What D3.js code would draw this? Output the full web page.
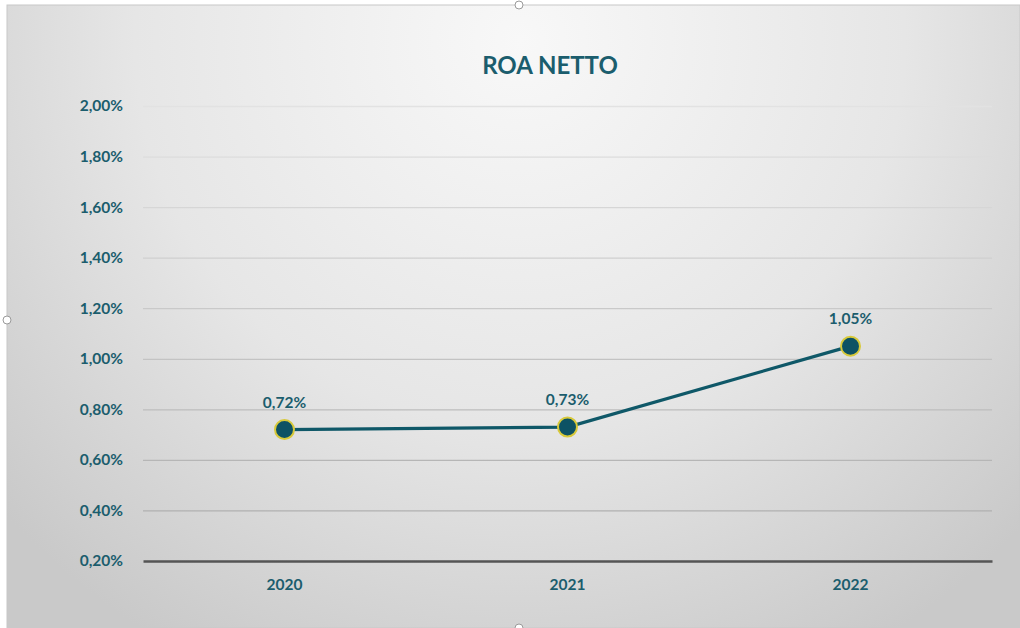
<!DOCTYPE html>
<html>
<head>
<meta charset="utf-8">
<script src="https://cdn.jsdelivr.net/npm/d3@7"></script>
<style>
  body { margin: 0; background: #ffffff; }
  svg { display: block; }
</style>
</head>
<body>
<script>
// chart data
var years = ["2020", "2021", "2022"];
var roaValues = [0.72, 0.73, 1.05];
var yTicks = [0.2, 0.4, 0.6, 0.8, 1.0, 1.2, 1.4, 1.6, 1.8, 2.0];
var chartTitle = "ROA NETTO";

var W = 1020, H = 628;
var margin = { top: 106, right: 28, bottom: 67, left: 143 };

var svg = d3.select("body").append("svg")
    .attr("width", W)
    .attr("height", H);

// background gradient of the chart panel
var defs = svg.append("defs");
var grad = defs.append("radialGradient")
    .attr("id", "bg")
    .attr("gradientUnits", "userSpaceOnUse")
    .attr("cx", 520).attr("cy", 40).attr("r", 700);
grad.append("stop").attr("offset", "0%").attr("stop-color", "#f8f8f8");
grad.append("stop").attr("offset", "55%").attr("stop-color", "#e6e6e6");
grad.append("stop").attr("offset", "100%").attr("stop-color", "#c9c9c9");

svg.append("rect")
    .attr("x", 7).attr("y", 5)
    .attr("width", W - 7).attr("height", H - 5)
    .attr("fill", "url(#bg)")
    .attr("stroke", "#c8c8c8")
    .attr("stroke-width", 1);

// selection handles
[[519, 5], [7, 320], [519, 628]].forEach(function (p) {
    svg.append("circle")
        .attr("cx", p[0]).attr("cy", p[1]).attr("r", 4)
        .attr("fill", "#ffffff")
        .attr("stroke", "#9a9a9a")
        .attr("stroke-width", 1);
});

var x = d3.scaleBand()
    .domain(years)
    .range([margin.left, W - margin.right]);

var y = d3.scaleLinear()
    .domain([0.2, 2.0])
    .range([H - margin.bottom, margin.top]);

var teal = "#1b5d6d";
var font = "Lato, sans-serif";
var fmt = function (v) { return v.toFixed(2).replace(".", ",") + "%"; };

// gridlines, lighter towards the top
var gridColor = d3.scaleLinear().domain([0.4, 2.0]).range(["#b0b0b0", "#e2e2e2"]);
var grid = svg.append("g")
    .attr("transform", "translate(" + margin.left + ",0)")
    .call(d3.axisLeft(y).tickValues(yTicks.slice(1)).tickSize(-(W - margin.left - margin.right)).tickFormat(""));
grid.select(".domain").remove();
grid.selectAll("line")
    .attr("stroke", function (d) { return gridColor(d); })
    .attr("stroke-width", 1.3);

// y labels
var yAxis = svg.append("g")
    .attr("transform", "translate(" + (margin.left - 17) + ",0)")
    .call(d3.axisLeft(y).tickValues(yTicks).tickSize(0).tickFormat(fmt));
yAxis.select(".domain").remove();
yAxis.selectAll("text")
    .attr("fill", teal)
    .attr("font-family", font)
    .attr("font-weight", "bold")
    .attr("font-size", 15.5);

// x axis baseline and labels
var xAxis = svg.append("g")
    .attr("transform", "translate(0," + y(0.2) + ")")
    .call(d3.axisBottom(x).tickSize(0).tickPadding(18));
xAxis.select(".domain")
    .attr("stroke", "#555555")
    .attr("stroke-width", 2.5);
xAxis.selectAll("text")
    .attr("fill", teal)
    .attr("font-family", font)
    .attr("font-weight", "bold")
    .attr("font-size", 15.5);

// title
svg.append("text")
    .attr("x", 550).attr("y", 74)
    .attr("text-anchor", "middle")
    .attr("fill", teal)
    .attr("font-family", font)
    .attr("font-weight", "bold")
    .attr("font-size", 24)
    .text(chartTitle);

var data = years.map(function (yr, i) { return { year: yr, value: roaValues[i] }; });
var cx = function (d) { return x(d.year) + x.bandwidth() / 2; };

// line
svg.append("path")
    .datum(data)
    .attr("fill", "none")
    .attr("stroke", "#0f5868")
    .attr("stroke-width", 3.2)
    .attr("d", d3.line().x(cx).y(function (d) { return y(d.value); }));

// markers
svg.selectAll("circle.pt")
    .data(data)
    .enter().append("circle")
    .attr("class", "pt")
    .attr("cx", cx)
    .attr("cy", function (d) { return y(d.value); })
    .attr("r", 9.5)
    .attr("fill", "#0d5264")
    .attr("stroke", "#d8c93a")
    .attr("stroke-width", 2);

// data labels
svg.selectAll("text.lbl")
    .data(data)
    .enter().append("text")
    .attr("class", "lbl")
    .attr("x", cx)
    .attr("y", function (d) { return y(d.value) - 22; })
    .attr("text-anchor", "middle")
    .attr("fill", teal)
    .attr("font-family", font)
    .attr("font-weight", "bold")
    .attr("font-size", 15.5)
    .text(function (d) { return fmt(d.value); });
</script>
</body>
</html>
